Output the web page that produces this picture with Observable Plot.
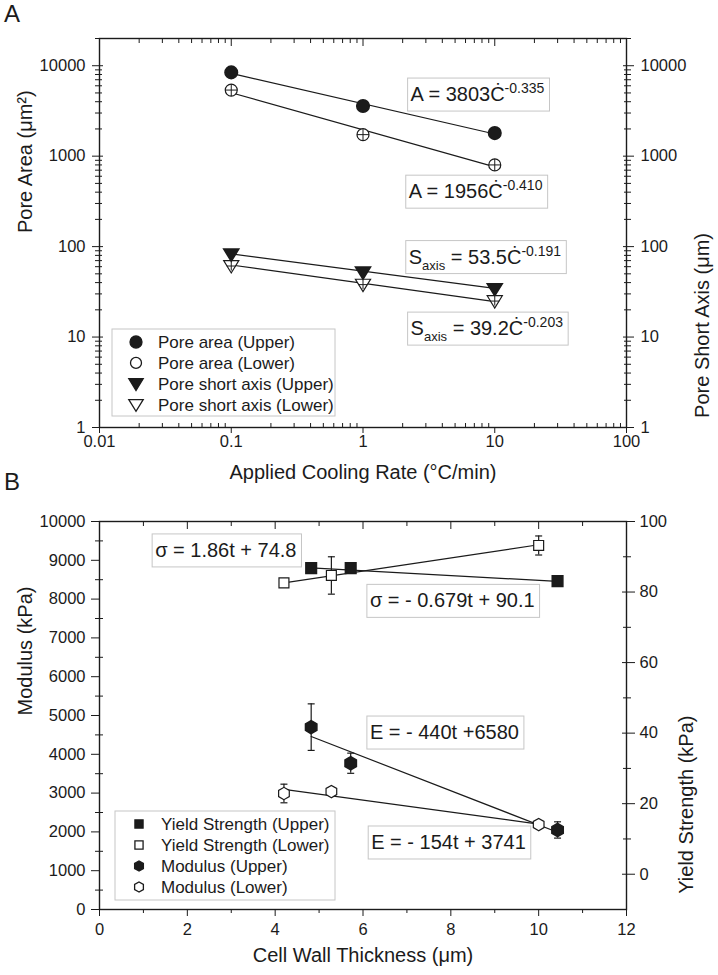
<!DOCTYPE html>
<html>
<head>
<meta charset="utf-8">
<script src="https://cdn.jsdelivr.net/npm/d3@7"></script>
<script src="https://cdn.jsdelivr.net/npm/@observablehq/plot@0.6"></script>
<style>
  body { margin: 0; background: #fff; }
  #root { position: relative; width: 718px; height: 975px; font-family: "Liberation Sans", Arial, Helvetica, sans-serif; color: #1b1b1b; }
  #root svg { position: absolute; left: 0; overflow: visible; }
  .letter { position: absolute; left: 4px; font-size: 24px; line-height: 24px; }
</style>
</head>
<body>
<div id="root">
  <div class="letter" style="top:2px">A</div>
  <div class="letter" style="top:470px">B</div>
</div>
<script>
// ---------------- Panel A data ----------------
const coolingRate = [0.1, 1, 10];
const poreAreaUpper = [8440, 3590, 1800];
const poreAreaLower = [5380, 1730, 800];
const shortAxisUpper = [82, 52, 34];
const shortAxisLower = [61, 38, 25];
// power-law fit lines (end points)
const fitRate = [0.1, 10];
const fitAreaUpper = [8226, 1758];
const fitAreaLower = [5027, 761];
const fitShortUpper = [83.0, 34.5];
const fitShortLower = [62.6, 24.6];
const seriesNamesA = ["Pore area (Upper)", "Pore area (Lower)", "Pore short axis (Upper)", "Pore short axis (Lower)"];
const xTicksA = [0.01, 0.1, 1, 10, 100];
const yTicksA = [1, 10, 100, 1000, 10000];
const eqTextA = [
  [["A = 3803Ċ", ""], ["-0.335", "sup"]],
  [["A = 1956Ċ", ""], ["-0.410", "sup"]],
  [["S", ""], ["axis", "sub"], [" = 53.5Ċ", ""], ["-0.191", "sup"]],
  [["S", ""], ["axis", "sub"], [" = 39.2Ċ", ""], ["-0.203", "sup"]]
];
const eqAnchorA = [[2.2, 4800], [2.13, 405], [2.13, 76.6], [2.2, 12.4]];

// ---------------- Panel B data ----------------
const thicknessUpper = [4.82, 5.72, 10.43];
const thicknessLower = [4.2, 5.28, 10.0];
const yieldUpper = [86.8, 86.8, 83.1];
const yieldLower = [82.6, 84.7, 93.2];
const yieldLowerErr = [0.8, 5.3, 2.7];
const modulusUpper = [4700, 3770, 2050];
const modulusUpperErr = [600, 260, 210];
const modulusLower = [2990, 3040, 2190];
const modulusLowerErr = [240, 100, 60];
// linear fit lines (end points)
const fitYieldUpperT = [4.82, 10.43], fitYieldUpper = [86.83, 83.02];
const fitYieldLowerT = [4.2, 10.0], fitYieldLower = [82.61, 93.4];
const fitModUpperT = [4.82, 10.43], fitModUpper = [4459, 1991];
const fitModLowerT = [4.2, 10.0], fitModLower = [3094, 2201];
const seriesNamesB = ["Yield Strength (Upper)", "Yield Strength (Lower)", "Modulus (Upper)", "Modulus (Lower)"];
const xTicksB = [0, 2, 4, 6, 8, 10, 12];
const xMinorB = [1, 3, 5, 7, 9, 11];
const yTicksModulus = [0, 1000, 2000, 3000, 4000, 5000, 6000, 7000, 8000, 9000, 10000];
const yMinorModulus = [500, 1500, 2500, 3500, 4500, 5500, 6500, 7500, 8500, 9500];
const yTicksYield = [0, 20, 40, 60, 80, 100];
const yMinorYield = [10, 30, 50, 70, 90];
const eqTextYield = [[["σ = 1.86t + 74.8", ""]], [["σ = - 0.679t + 90.1", ""]]];
const eqAnchorYield = [[1.21, 91.8], [6.1, 77.5]];
const eqTextModulus = [[["E = - 440t +6580", ""]], [["E = - 154t + 3741", ""]]];
const eqAnchorModulus = [[6.1, 4561], [6.13, 1727]];

// ---------------- helpers ----------------
const ink = "#1b1b1b";
const boxStroke = "#c6c6c6";
const FONT = '"Liberation Sans", Arial, Helvetica, sans-serif';

function rows(xs, ys, es) { return xs.map((x, i) => ({x, y: ys[i], e: es ? es[i] : 0})); }
function logMinor(lo, hi) { const out = []; for (let p = lo; p < hi; p++) for (let k = 2; k <= 9; k++) out.push(+(k * Math.pow(10, p)).toPrecision(6)); return out; }
const xMinorA = logMinor(-2, 2);
const yMinorA = logMinor(0, 4).concat([20000]);

const fmt = d => String(d);
const blank = () => "";

const triDown = {draw(ctx, size) { const r = Math.sqrt(size / Math.PI); ctx.moveTo(-1.2 * r, -0.85 * r); ctx.lineTo(1.2 * r, -0.85 * r); ctx.lineTo(0, 1.1 * r); ctx.closePath(); }};
const hexagon = {draw(ctx, size) { const r = Math.sqrt(size / Math.PI) * 1.1; for (let k = 0; k < 6; k++) { const a = Math.PI / 2 + k * Math.PI / 3; const px = r * Math.cos(a), py = r * Math.sin(a); if (k === 0) ctx.moveTo(px, py); else ctx.lineTo(px, py); } ctx.closePath(); }};
const plusMark = {draw(ctx, size) { const r = Math.sqrt(size / Math.PI); ctx.moveTo(-r, 0); ctx.lineTo(r, 0); ctx.moveTo(0, -r); ctx.lineTo(0, r); }};
const capMark = {draw(ctx, size) { const r = Math.sqrt(size / Math.PI); ctx.moveTo(-r, 0); ctx.lineTo(r, 0); }};

function legendMark(names, styles, o) {
  return (index, scales, values, dims) => {
    const g = d3.create("svg:g").attr("text-anchor", "start");
    const x0 = dims.marginLeft + o.dx;
    const y0 = dims.height - dims.marginBottom - o.fromBottom;
    g.append("rect").attr("x", x0).attr("y", y0).attr("width", o.w).attr("height", o.h)
      .attr("fill", "white").attr("stroke", boxStroke);
    names.forEach((name, i) => {
      const s = styles[i];
      const cy = y0 + o.top + i * o.row;
      g.append("path").attr("transform", `translate(${x0 + o.mx},${cy})`)
        .attr("d", d3.symbol(s.symbol, Math.PI * s.r * s.r)())
        .attr("fill", s.fill).attr("stroke", ink).attr("stroke-width", 1.3);
      g.append("text").attr("x", x0 + o.tx).attr("y", cy).attr("dy", "0.36em")
        .attr("text-anchor", "start")
        .attr("font-size", 17).attr("fill", ink).text(name);
    });
    return g.node();
  };
}

function eqMark(texts, anchors) {
  return (index, scales, values, dims) => {
    const g = d3.create("svg:g").attr("text-anchor", "start");
    texts.forEach((parts, i) => {
      const px = scales.x(anchors[i][0]), py = scales.y(anchors[i][1]);
      const gg = g.append("g").attr("class", "eq").attr("transform", `translate(${px},${py})`);
      gg.append("rect").attr("x", 0).attr("y", -16).attr("height", 33).attr("width", 150)
        .attr("fill", "white").attr("stroke", boxStroke);
      const t = gg.append("text").attr("x", 3).attr("y", 7).attr("text-anchor", "start")
        .attr("font-size", 20).attr("fill", ink);
      let shift = 0;
      parts.forEach(([s, kind]) => {
        const target = kind === "sup" ? -8 : kind === "sub" ? 6 : 0;
        const ts = t.append("tspan").attr("dy", target - shift).text(s);
        if (kind === "sup") ts.attr("font-size", 14);
        if (kind === "sub") ts.attr("font-size", 13);
        shift = target;
      });
    });
    return g.node();
  };
}

function axisSet(axisFn, anchor, major, minor, cfg) {
  const marks = [
    axisFn({anchor, ticks: major, tickFormat: cfg.labels ? fmt : blank, tickSize: cfg.out, tickPadding: cfg.pad, label: null, fontSize: 16.5})
  ];
  if (cfg.inn) marks.push(axisFn({anchor, ticks: major, tickFormat: blank, tickSize: -cfg.inn, label: null}));
  if (minor && cfg.minOut) marks.push(axisFn({anchor, ticks: minor, tickFormat: blank, tickSize: cfg.minOut, label: null}));
  if (minor && cfg.minIn) marks.push(axisFn({anchor, ticks: minor, tickFormat: blank, tickSize: -cfg.minIn, label: null}));
  return marks;
}

const styleBase = {background: "transparent", fontFamily: FONT, fontSize: "16.5px", color: ink, overflow: "visible"};

// ---------------- Panel A ----------------
const plotA = Plot.plot({
  width: 718, height: 495,
  marginLeft: 99, marginRight: 92, marginTop: 38, marginBottom: 68,
  style: styleBase,
  x: {type: "log", domain: [0.01, 100]},
  y: {type: "log", domain: [1, 20000]},
  marks: [
    Plot.frame({stroke: ink, strokeWidth: 1.4}),
    ...axisSet(Plot.axisX, "bottom", xTicksA, xMinorA, {labels: true, out: 6, pad: 2, minIn: 4}),
    ...axisSet(Plot.axisX, "top", xTicksA, xMinorA, {labels: false, out: 0, inn: 7, minIn: 4}),
    ...axisSet(Plot.axisY, "left", yTicksA, yMinorA, {labels: true, out: 7, pad: 7, inn: 4, minOut: 4, minIn: 3}),
    ...axisSet(Plot.axisY, "right", yTicksA, yMinorA, {labels: true, out: 7, pad: 7, inn: 4, minOut: 4, minIn: 3}),
    Plot.line(rows(fitRate, fitAreaUpper), {x: "x", y: "y", stroke: ink, strokeWidth: 1.2}),
    Plot.line(rows(fitRate, fitAreaLower), {x: "x", y: "y", stroke: ink, strokeWidth: 1.2}),
    Plot.line(rows(fitRate, fitShortUpper), {x: "x", y: "y", stroke: ink, strokeWidth: 1.2}),
    Plot.line(rows(fitRate, fitShortLower), {x: "x", y: "y", stroke: ink, strokeWidth: 1.2}),
    Plot.dot(rows(coolingRate, poreAreaLower), {x: "x", y: "y", symbol: d3.symbolCircle, r: 6, fill: "white", stroke: ink, strokeWidth: 1.2}),
    Plot.dot(rows(coolingRate, poreAreaLower), {x: "x", y: "y", symbol: plusMark, r: 6, stroke: ink, strokeWidth: 1}),
    Plot.dot(rows(coolingRate, poreAreaUpper), {x: "x", y: "y", symbol: d3.symbolCircle, r: 6.3, fill: ink, stroke: ink}),
    Plot.dot(rows(coolingRate, shortAxisLower), {x: "x", y: "y", symbol: triDown, r: 6.3, fill: "white", stroke: ink, strokeWidth: 1.2}),
    Plot.dot(rows(coolingRate, shortAxisLower), {x: "x", y: "y", symbol: plusMark, r: 4.5, stroke: ink, strokeWidth: 1}),
    Plot.dot(rows(coolingRate, shortAxisUpper), {x: "x", y: "y", symbol: triDown, r: 6.3, fill: ink, stroke: ink}),
    Plot.text(["Applied Cooling Rate (°C/min)"], {text: d => d, frameAnchor: "bottom", dy: 51, fontSize: 20, fill: ink}),
    Plot.text(["Pore Area (μm²)"], {text: d => d, frameAnchor: "left", dx: -74, rotate: -90, fontSize: 20, fill: ink}),
    Plot.text(["Pore Short Axis (μm)"], {text: d => d, frameAnchor: "right", dx: 76, rotate: -90, fontSize: 20, fill: ink}),
    legendMark(seriesNamesA, [
      {symbol: d3.symbolCircle, r: 6, fill: ink},
      {symbol: d3.symbolCircle, r: 5.5, fill: "white"},
      {symbol: triDown, r: 6, fill: ink},
      {symbol: triDown, r: 6, fill: "white"}
    ], {dx: 13, fromBottom: 98, w: 223, h: 87, top: 13, row: 20.9, mx: 24, tx: 46}),
    eqMark(eqTextA, eqAnchorA)
  ]
});
plotA.style.top = "0px";

// ---------------- Panel B (modulus, left axis) ----------------
const marginsB = {width: 718, height: 485, marginLeft: 99, marginRight: 92, marginTop: 31, marginBottom: 66};
const plotB1 = Plot.plot({
  ...marginsB,
  style: styleBase,
  x: {domain: [0, 12]},
  y: {domain: [0, 10000]},
  marks: [
    Plot.frame({stroke: ink, strokeWidth: 1.4}),
    ...axisSet(Plot.axisX, "bottom", xTicksB, xMinorB, {labels: true, out: 7, pad: 7, minOut: 4}),
    ...axisSet(Plot.axisX, "top", xTicksB, xMinorB, {labels: false, out: 0, inn: 7, minIn: 4}),
    ...axisSet(Plot.axisY, "left", yTicksModulus, yMinorModulus, {labels: true, out: 8, pad: 6, minOut: 4, minIn: 4}),
    Plot.line(rows(fitModUpperT, fitModUpper), {x: "x", y: "y", stroke: ink, strokeWidth: 1.2}),
    Plot.line(rows(fitModLowerT, fitModLower), {x: "x", y: "y", stroke: ink, strokeWidth: 1.2}),
    Plot.ruleX(rows(thicknessUpper, modulusUpper, modulusUpperErr), {x: "x", y1: d => d.y - d.e, y2: d => d.y + d.e, stroke: ink, strokeWidth: 1.2}),
    Plot.dot(rows(thicknessUpper, modulusUpper, modulusUpperErr), {x: "x", y: d => d.y - d.e, symbol: capMark, r: 3.5, stroke: ink, strokeWidth: 1.2}),
    Plot.dot(rows(thicknessUpper, modulusUpper, modulusUpperErr), {x: "x", y: d => d.y + d.e, symbol: capMark, r: 3.5, stroke: ink, strokeWidth: 1.2}),
    Plot.ruleX(rows(thicknessLower, modulusLower, modulusLowerErr), {x: "x", y1: d => d.y - d.e, y2: d => d.y + d.e, stroke: ink, strokeWidth: 1.2}),
    Plot.dot(rows(thicknessLower, modulusLower, modulusLowerErr), {x: "x", y: d => d.y - d.e, symbol: capMark, r: 3.5, stroke: ink, strokeWidth: 1.2}),
    Plot.dot(rows(thicknessLower, modulusLower, modulusLowerErr), {x: "x", y: d => d.y + d.e, symbol: capMark, r: 3.5, stroke: ink, strokeWidth: 1.2}),
    Plot.dot(rows(thicknessLower, modulusLower), {x: "x", y: "y", symbol: hexagon, r: 5.6, fill: "white", stroke: ink, strokeWidth: 1.2}),
    Plot.dot(rows(thicknessUpper, modulusUpper), {x: "x", y: "y", symbol: hexagon, r: 6, fill: ink, stroke: ink}),
    Plot.text(["Cell Wall Thickness (μm)"], {text: d => d, frameAnchor: "bottom", dy: 52, fontSize: 20, fill: ink}),
    Plot.text(["Modulus (kPa)"], {text: d => d, frameAnchor: "left", dx: -74, rotate: -90, fontSize: 20, fill: ink}),
    eqMark(eqTextModulus, eqAnchorModulus)
  ]
});
plotB1.style.top = "490px";

// ---------------- Panel B (yield strength, right axis) ----------------
const plotB2 = Plot.plot({
  ...marginsB,
  style: styleBase,
  x: {domain: [0, 12], axis: null},
  y: {domain: [-10, 100]},
  marks: [
    ...axisSet(Plot.axisY, "right", yTicksYield, yMinorYield, {labels: true, out: 8, pad: 5, inn: 5, minOut: 4, minIn: 4}),
    Plot.line(rows(fitYieldUpperT, fitYieldUpper), {x: "x", y: "y", stroke: ink, strokeWidth: 1.2}),
    Plot.line(rows(fitYieldLowerT, fitYieldLower), {x: "x", y: "y", stroke: ink, strokeWidth: 1.2}),
    Plot.ruleX(rows(thicknessLower, yieldLower, yieldLowerErr), {x: "x", y1: d => d.y - d.e, y2: d => d.y + d.e, stroke: ink, strokeWidth: 1.2}),
    Plot.dot(rows(thicknessLower, yieldLower, yieldLowerErr), {x: "x", y: d => d.y - d.e, symbol: capMark, r: 3.5, stroke: ink, strokeWidth: 1.2}),
    Plot.dot(rows(thicknessLower, yieldLower, yieldLowerErr), {x: "x", y: d => d.y + d.e, symbol: capMark, r: 3.5, stroke: ink, strokeWidth: 1.2}),
    Plot.dot(rows(thicknessLower, yieldLower), {x: "x", y: "y", symbol: d3.symbolSquare, r: 5.6, fill: "white", stroke: ink, strokeWidth: 1.2}),
    Plot.dot(rows(thicknessUpper, yieldUpper), {x: "x", y: "y", symbol: d3.symbolSquare, r: 6, fill: ink, stroke: ink}),
    Plot.text(["Yield Strength (kPa)"], {text: d => d, frameAnchor: "right", dx: 60, rotate: -90, fontSize: 20, fill: ink}),
    legendMark(seriesNamesB, [
      {symbol: d3.symbolSquare, r: 4.6, fill: ink},
      {symbol: d3.symbolSquare, r: 4.6, fill: "white"},
      {symbol: hexagon, r: 4.6, fill: ink},
      {symbol: hexagon, r: 4.6, fill: "white"}
    ], {dx: 16, fromBottom: 98, w: 220, h: 89, top: 13, row: 21, mx: 24, tx: 46}),
    eqMark(eqTextYield, eqAnchorYield)
  ]
});
plotB2.style.top = "490px";

const root = document.getElementById("root");
root.append(plotA, plotB1, plotB2);

// size the equation boxes to their text
document.querySelectorAll("g.eq").forEach(g => {
  const t = g.querySelector("text");
  const w = t.getBBox().width;
  g.querySelector("rect").setAttribute("width", w + 8);
});
</script>
</body>
</html>
